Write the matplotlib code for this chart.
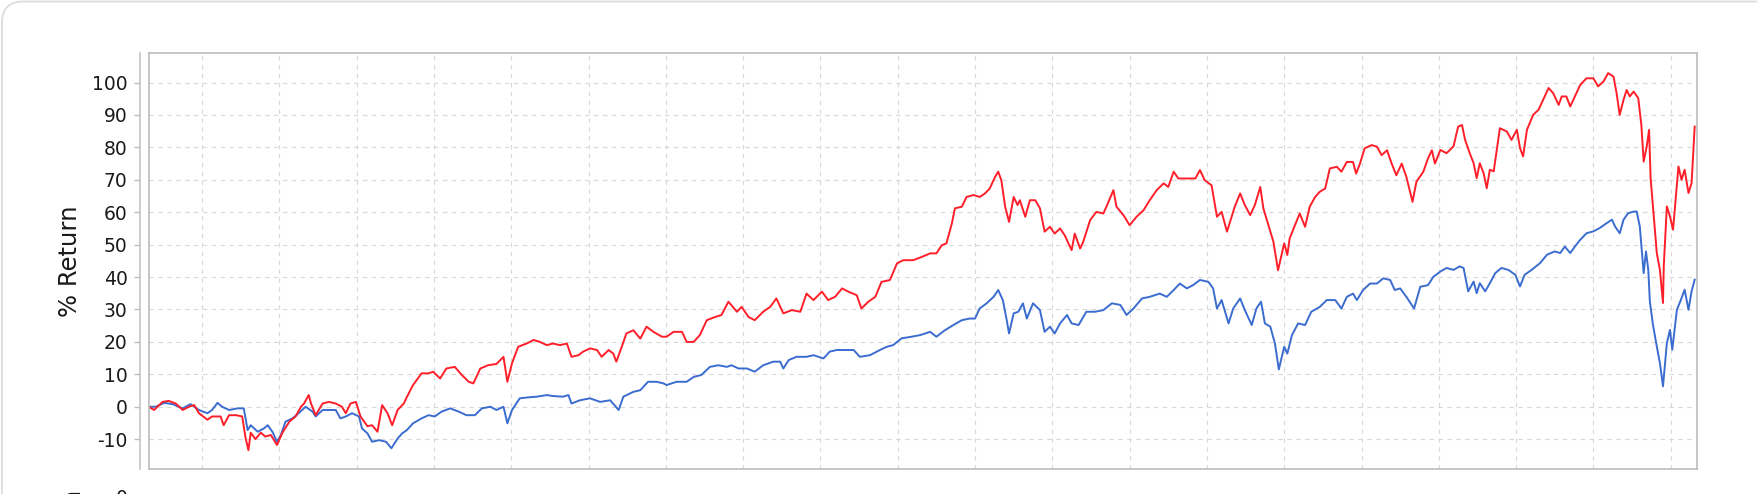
import matplotlib.pyplot as plt
from matplotlib.patches import FancyBboxPatch

plt.rcParams['axes.unicode_minus'] = False

# 数据：年份（小数）与累计收益率（%）
red_x = [2000.31, 2000.38, 2000.49, 2000.57, 2000.66, 2000.75, 2000.83, 2000.90, 2000.96, 2001.07,
         2001.13, 2001.24, 2001.28, 2001.35, 2001.44, 2001.52, 2001.56, 2001.60, 2001.63, 2001.69,
         2001.76, 2001.82, 2001.89, 2001.97, 2002.04, 2002.13, 2002.21, 2002.28, 2002.32, 2002.38,
         2002.41, 2002.47, 2002.56, 2002.64, 2002.73, 2002.81, 2002.86, 2002.92, 2002.99, 2003.05,
         2003.14, 2003.20, 2003.27, 2003.33, 2003.40, 2003.46, 2003.53, 2003.61, 2003.65, 2003.73,
         2003.84, 2003.93, 2003.99, 2004.08, 2004.16, 2004.27, 2004.36, 2004.45, 2004.51, 2004.60,
         2004.70, 2004.81, 2004.90, 2004.95, 2005.01, 2005.09, 2005.20, 2005.29, 2005.37, 2005.46,
         2005.54, 2005.63, 2005.72, 2005.78, 2005.87, 2005.93, 2006.02, 2006.11, 2006.17, 2006.26,
         2006.32, 2006.36, 2006.43, 2006.49, 2006.58, 2006.67, 2006.75, 2006.84, 2006.95, 2007.01,
         2007.10, 2007.21, 2007.27, 2007.36, 2007.44, 2007.53, 2007.64, 2007.72, 2007.81, 2007.92,
         2007.98, 2008.07, 2008.15, 2008.26, 2008.35, 2008.43, 2008.52, 2008.63, 2008.74, 2008.82,
         2008.91, 2009.02, 2009.10, 2009.19, 2009.28, 2009.36, 2009.47, 2009.53, 2009.62, 2009.71,
         2009.79, 2009.90, 2009.99, 2010.07, 2010.20, 2010.31, 2010.42, 2010.50, 2010.57, 2010.63,
         2010.70, 2010.74, 2010.83, 2010.89, 2010.98, 2011.06, 2011.13, 2011.19, 2011.26, 2011.30,
         2011.34, 2011.39, 2011.44, 2011.50, 2011.55, 2011.58, 2011.65, 2011.71, 2011.78, 2011.84,
         2011.90, 2011.97, 2012.03, 2012.10, 2012.16, 2012.25, 2012.29, 2012.36, 2012.40, 2012.49,
         2012.57, 2012.66, 2012.70, 2012.79, 2012.83, 2012.92, 2013.00, 2013.09, 2013.18, 2013.26,
         2013.35, 2013.44, 2013.50, 2013.57, 2013.63, 2013.74, 2013.85, 2013.91, 2013.97, 2014.06,
         2014.13, 2014.19, 2014.26, 2014.32, 2014.36, 2014.43, 2014.49, 2014.56, 2014.62, 2014.69,
         2014.73, 2014.79, 2014.86, 2014.92, 2015.00, 2015.04, 2015.07, 2015.14, 2015.20, 2015.27,
         2015.33, 2015.40, 2015.46, 2015.53, 2015.59, 2015.68, 2015.74, 2015.81, 2015.89, 2015.93,
         2015.98, 2016.04, 2016.13, 2016.20, 2016.26, 2016.33, 2016.39, 2016.45, 2016.52, 2016.58,
         2016.66, 2016.71, 2016.80, 2016.86, 2016.91, 2016.95, 2017.02, 2017.10, 2017.19, 2017.25,
         2017.30, 2017.34, 2017.40, 2017.45, 2017.49, 2017.53, 2017.58, 2017.62, 2017.66, 2017.71,
         2017.79, 2017.88, 2017.94, 2018.01, 2018.05, 2018.09, 2018.14, 2018.22, 2018.29, 2018.35,
         2018.42, 2018.48, 2018.55, 2018.59, 2018.65, 2018.70, 2018.76, 2018.83, 2018.91, 2019.00,
         2019.06, 2019.13, 2019.19, 2019.26, 2019.30, 2019.34, 2019.39, 2019.43, 2019.47, 2019.52,
         2019.58, 2019.62, 2019.65, 2019.69, 2019.72, 2019.74, 2019.77, 2019.82, 2019.86, 2019.90,
         2019.91, 2019.95, 2019.99, 2020.03, 2020.10, 2020.14, 2020.18, 2020.23, 2020.27, 2020.31]
red_y = [0, -1, 1.5, 1.8, 1, -1, 0, 0.5, -2, -4,
         -3, -3, -5.7, -2.6, -2.6, -3, -9.2, -13.4, -8, -10,
         -8, -9.2, -8.7, -11.8, -8, -4.6, -3, 0, 1, 3.6,
         1, -2.6, 1, 1.5, 1, 0, -2, 1, 1.5, -3,
         -6, -5.7, -7.7, 0.5, -2, -5.7, -1, 1, 3, 6.7,
         10.3, 10.3, 10.8, 8.7, 11.8, 12.3, 9.8, 7.7, 7.2, 11.8,
         12.8, 13.2, 15.4, 7.7, 13.4, 18.5, 19.5, 20.6, 20, 19,
         19.5, 19, 19.5, 15.4, 15.9, 17, 18, 17.5, 15.4, 17.5,
         16.4, 13.9, 18.5, 22.6, 23.6, 21, 24.7, 23.1, 21.6, 21.6,
         23.1, 23.1, 20, 20, 22.1, 26.7, 27.7, 28.3, 32.4, 29.3,
         30.8, 27.7, 26.7, 29.3, 30.8, 33.4, 28.8, 29.8, 29.3, 34.9,
         32.9, 35.5, 32.9, 33.9, 36.5, 35.5, 34.4, 30.3, 32.4, 33.9,
         38.5, 39.1, 44.2, 45.2, 45.2, 46.2, 47.3, 47.3, 49.8, 50.4,
         56.5, 61.2, 61.7, 64.7, 65.3, 64.7, 65.8, 67.3, 70.9, 72.5,
         69.9, 61.7, 57, 64.7, 62.2, 63.7, 58.6, 63.7, 63.7, 61.2,
         54, 55.5, 53.4, 55, 52.9, 48.3, 53.4, 48.8, 50.9, 57.6,
         60.1, 59.6, 61.7, 66.8, 61.7, 59.1, 56, 58.6, 60.6, 63.7,
         66.8, 68.9, 67.8, 72.5, 70.4, 70.4, 70.4, 73, 69.9, 68.3,
         58.6, 60.1, 54, 58.6, 61.7, 65.8, 62.2, 59.1, 62.2, 67.8,
         61.2, 56.5, 50.9, 42.1, 50.4, 46.8, 51.9, 56, 59.6, 55.5,
         61.7, 64.7, 66.3, 67.3, 73.5, 74, 72.5, 75.5, 75.5, 71.9,
         75, 79.7, 80.7, 80.2, 77.6, 79.1, 75, 71.4, 75, 70.9,
         63.2, 69.4, 72.5, 76.6, 79.1, 75, 79.2, 78.2, 80.3, 86.4,
         86.9, 82.3, 78.2, 75.1, 70.5, 75.1, 72, 67.4, 73.1, 72.6,
         85.9, 84.9, 82.3, 85.4, 79.8, 77.2, 85.4, 90, 91.6, 94.7,
         98.3, 96.7, 93.1, 95.7, 95.7, 92.6, 95.7, 99.3, 101.3, 101.3,
         98.8, 100.3, 102.9, 101.8, 96.7, 90, 94.7, 97.7, 95.7, 97.2,
         95.2, 86.9, 75.6, 80.3, 85.4, 70.5, 61.8, 47.4, 42.2, 32,
         43.3, 61.8, 58.7, 54.6, 74.1, 70, 73.1, 65.9, 69, 86.4]

blue_x = [2000.31, 2000.40, 2000.51, 2000.62, 2000.75, 2000.85, 2000.96, 2001.07, 2001.13, 2001.20,
          2001.26, 2001.35, 2001.46, 2001.54, 2001.59, 2001.63, 2001.72, 2001.80, 2001.85, 2001.91,
          2001.97, 2002.02, 2002.08, 2002.17, 2002.25, 2002.34, 2002.43, 2002.47, 2002.56, 2002.64,
          2002.73, 2002.79, 2002.86, 2002.94, 2003.03, 2003.07, 2003.14, 2003.20, 2003.29, 2003.38,
          2003.45, 2003.53, 2003.59, 2003.65, 2003.73, 2003.84, 2003.93, 2004.01, 2004.10, 2004.21,
          2004.32, 2004.42, 2004.53, 2004.62, 2004.73, 2004.81, 2004.90, 2004.95, 2005.01, 2005.11,
          2005.22, 2005.33, 2005.46, 2005.54, 2005.67, 2005.74, 2005.78, 2005.89, 2006.02, 2006.15,
          2006.28, 2006.39, 2006.45, 2006.58, 2006.67, 2006.77, 2006.88, 2006.97, 2007.01, 2007.14,
          2007.27, 2007.36, 2007.46, 2007.57, 2007.68, 2007.79, 2007.85, 2007.94, 2008.05, 2008.15,
          2008.26, 2008.39, 2008.48, 2008.52, 2008.59, 2008.69, 2008.82, 2008.91, 2009.04, 2009.12,
          2009.21, 2009.34, 2009.43, 2009.51, 2009.64, 2009.77, 2009.86, 2009.94, 2010.05, 2010.18,
          2010.29, 2010.42, 2010.50, 2010.61, 2010.72, 2010.83, 2010.93, 2011.00, 2011.06, 2011.15,
          2011.24, 2011.30, 2011.36, 2011.41, 2011.44, 2011.50, 2011.56, 2011.62, 2011.67, 2011.75,
          2011.84, 2011.90, 2011.97, 2012.03, 2012.10, 2012.19, 2012.25, 2012.34, 2012.44, 2012.55,
          2012.66, 2012.77, 2012.88, 2012.96, 2013.05, 2013.16, 2013.26, 2013.39, 2013.48, 2013.57,
          2013.65, 2013.74, 2013.82, 2013.91, 2014.02, 2014.08, 2014.13, 2014.19, 2014.28, 2014.34,
          2014.43, 2014.49, 2014.58, 2014.64, 2014.70, 2014.75, 2014.82, 2014.88, 2014.93, 2015.00,
          2015.04, 2015.10, 2015.18, 2015.27, 2015.35, 2015.46, 2015.55, 2015.66, 2015.74, 2015.81,
          2015.89, 2015.94, 2016.02, 2016.11, 2016.20, 2016.28, 2016.37, 2016.43, 2016.50, 2016.58,
          2016.68, 2016.76, 2016.86, 2016.93, 2017.02, 2017.10, 2017.19, 2017.27, 2017.32, 2017.38,
          2017.45, 2017.49, 2017.53, 2017.60, 2017.66, 2017.73, 2017.81, 2017.90, 2017.99, 2018.05,
          2018.11, 2018.20, 2018.31, 2018.40, 2018.50, 2018.57, 2018.63, 2018.70, 2018.76, 2018.83,
          2018.91, 2019.00, 2019.08, 2019.17, 2019.24, 2019.28, 2019.34, 2019.39, 2019.45, 2019.52,
          2019.56, 2019.60, 2019.65, 2019.68, 2019.71, 2019.73, 2019.77, 2019.82, 2019.86, 2019.90,
          2019.95, 2019.99, 2020.02, 2020.08, 2020.14, 2020.18, 2020.23, 2020.27, 2020.31]
blue_y = [0, 0, 1.2, 0.8, -0.5, 0.8, -1, -2, -1, 1.2,
          0, -1, -0.5, -0.5, -7.2, -5.7, -7.7, -6.7, -5.7, -7.7,
          -10.8, -8.7, -4.6, -3.6, -2, 0, -1.5, -3, -1, -1,
          -1, -3.6, -3, -2, -3, -6.7, -8.2, -10.8, -10.3, -10.8,
          -12.8, -9.8, -8.2, -7.2, -5.1, -3.6, -2.6, -3, -1.5, -0.5,
          -1.5, -2.6, -2.6, -0.5, 0, -1, 0, -5.1, -1, 2.6,
          2.9, 3.1, 3.6, 3.3, 3.1, 3.6, 1, 2, 2.6, 1.5,
          2, -1, 3.1, 4.6, 5.1, 7.7, 7.7, 7.2, 6.7, 7.7,
          7.7, 9.2, 9.8, 12.3, 12.8, 12.3, 12.8, 11.8, 11.8, 10.8,
          12.8, 13.9, 13.9, 11.8, 14.4, 15.4, 15.4, 15.9, 14.9, 17,
          17.5, 17.5, 17.5, 15.4, 15.9, 17.5, 18.5, 19, 21.1, 21.6,
          22.1, 23.1, 21.6, 23.6, 25.2, 26.7, 27.2, 27.2, 30.3, 31.9,
          33.9, 36, 32.9, 26.7, 22.6, 28.8, 29.3, 31.9, 27.2, 31.9,
          29.8, 23.1, 24.7, 22.6, 25.7, 28.3, 25.7, 25.2, 29.3, 29.3,
          29.8, 31.9, 31.4, 28.3, 30.3, 33.4, 33.9, 34.9, 33.9, 36,
          38, 36.5, 37.5, 39.1, 38.5, 36.5, 30.3, 32.9, 25.7, 30.3,
          33.4, 29.8, 25.2, 30.3, 32.4, 25.7, 24.7, 19.5, 11.5, 18.5,
          16.4, 22.1, 25.7, 25.2, 29.3, 30.8, 32.9, 32.9, 30.3, 33.9,
          34.9, 32.9, 36, 38, 38, 39.6, 39.1, 36, 36.5, 33.9,
          30.3, 37, 37.5, 40.1, 41.7, 42.8, 42.2, 43.3, 42.8, 35.6,
          38.6, 35, 38.1, 35.6, 38.1, 41.2, 42.8, 42.2, 40.7, 37.1,
          40.7, 42.2, 44.3, 46.9, 47.9, 47.4, 49.4, 47.4, 49.4, 51.5,
          53.5, 54.1, 55.1, 56.6, 57.7, 55.6, 53.5, 57.7, 59.7, 60.2,
          60.2, 55.6, 41.2, 47.9, 42.2, 32.5, 25.3, 18.6, 13.5, 6.3,
          19.6, 23.7, 17.6, 29.9, 33.5, 36.1, 29.9, 35.6, 39.2]

y_ticks = list(range(-10, 101, 10))
year_grid = list(range(2001, 2021))

# 画布
fig = plt.figure(figsize=(17.58, 4.94), dpi=100)

# 外层卡片边框（只画边，不遮挡图表）
card = FancyBboxPatch((2 / 1758, -0.2), 1.1, 1.2 - 1.5 / 494,
                      boxstyle='round,pad=0,rounding_size=0.012',
                      transform=fig.transFigure, fc='none', ec='#dcdcdc', lw=1.3,
                      mutation_aspect=1758 / 494, zorder=-5)
fig.patches.append(card)

ax = fig.add_axes([149 / 1758, 25 / 494, 1548 / 1758, 416 / 494])

ax.plot(blue_x, blue_y, color='#3b6ccf', lw=1.4)
ax.plot(red_x, red_y, color='#ff1f2a', lw=1.4)

ax.set_xlim(2000.314, 2020.34)
ax.set_ylim(-19.2, 109.1)

# 网格线
ax.set_xticks(year_grid)
ax.set_xticklabels([])
ax.set_yticks(y_ticks)
ax.grid(True, color='#d8d8d8', linestyle=(0, (4, 4)), lw=0.8)
ax.set_axisbelow(True)
ax.tick_params(axis='x', length=0)
ax.tick_params(axis='y', length=4, width=1, color='#bdbdbd', pad=5,
               labelsize=13.5, labelcolor='#1a1a1a')

# 边框与坐标轴
for s in ['top', 'right', 'bottom']:
    ax.spines[s].set_color('#bcbcbc')
    ax.spines[s].set_linewidth(1.2)
ax.spines['left'].set_position(('outward', 6.5))
ax.spines['left'].set_color('#c4c4c4')
ax.spines['left'].set_linewidth(1.2)
ax.plot([0, 0], [0, 1], transform=ax.transAxes, color='#bcbcbc', lw=1.2, clip_on=False)

ax.text(-0.0512, 0.5, '% Return', transform=ax.transAxes, rotation=90,
        ha='center', va='center', fontsize=17.5, color='#1a1a1a')

# 下方被截断的图表残留文字
fig.text(72 / 1758, 7.5 / 494, 'Drawdown', rotation=90, ha='center', va='top',
         fontsize=17.5, color='#1a1a1a')
fig.text(128 / 1758, 5 / 494, '0', ha='right', va='top', fontsize=13.5, color='#1a1a1a')

fig.savefig('out.png', dpi=100)
